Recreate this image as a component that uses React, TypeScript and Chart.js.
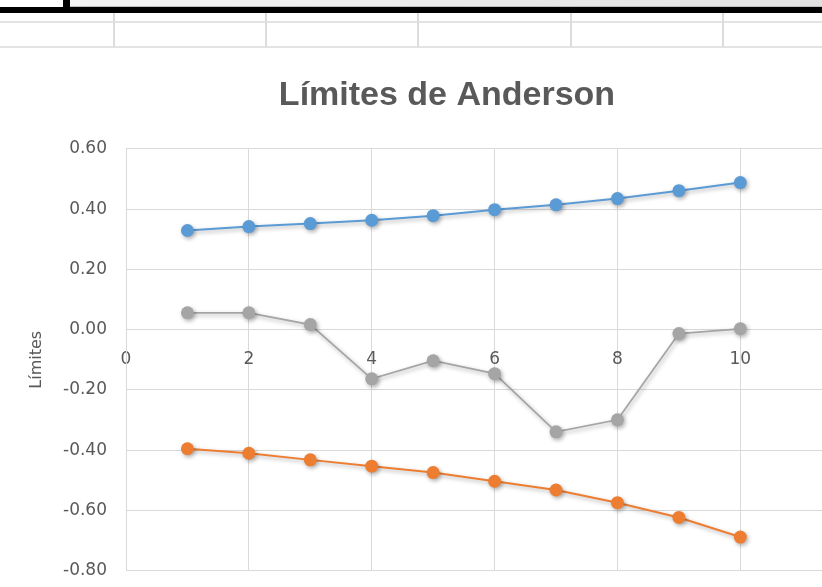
import React, { useEffect, useRef } from "react";
import { Chart, registerables } from "chart.js";

Chart.register(...registerables);

const chartTitle = "Límites de Anderson";
const yAxisTitle = "Límites";
const xValues = [1, 2, 3, 4, 5, 6, 7, 8, 9, 10];
const upperLimit = [0.329, 0.342, 0.352, 0.363, 0.378, 0.398, 0.414, 0.435, 0.461, 0.488];
const statistic = [0.056, 0.056, 0.017, -0.163, -0.103, -0.146, -0.339, -0.299, -0.013, 0.003];
const lowerLimit = [-0.395, -0.41, -0.432, -0.453, -0.474, -0.503, -0.532, -0.574, -0.623, -0.688];
const yMin = -0.8;
const yMax = 0.6;
const yStep = 0.2;
const xMin = 0;
const xMax = 12;
const xStep = 2;

const GRID = "#d9d9d9";
const TEXT = "#595959";

const shadowPlugin = {
  id: "markerShadow",
  beforeDatasetsDraw(chart: any) {
    const ctx = chart.ctx;
    ctx.save();
    ctx.shadowColor = "rgba(0,0,0,0.32)";
    ctx.shadowBlur = 4;
    ctx.shadowOffsetX = 1.5;
    ctx.shadowOffsetY = 2;
  },
  afterDatasetsDraw(chart: any) {
    chart.ctx.restore();
  },
};

function series(values: number[]) {
  return xValues.map((x, i) => ({ x, y: values[i] }));
}

export default function App() {
  const ref = useRef<HTMLCanvasElement | null>(null);

  useEffect(() => {
    if (!ref.current) return;
    const chart = new Chart(ref.current, {
      type: "line",
      data: {
        datasets: [
          {
            label: "Límite superior",
            data: series(upperLimit),
            borderColor: "#5B9BD5",
            backgroundColor: "#5B9BD5",
            borderWidth: 2,
            pointRadius: 6.5,
            pointBorderWidth: 0,
            tension: 0,
          },
          {
            label: "Límite inferior",
            data: series(lowerLimit),
            borderColor: "#ED7D31",
            backgroundColor: "#ED7D31",
            borderWidth: 2,
            pointRadius: 6.5,
            pointBorderWidth: 0,
            tension: 0,
          },
          {
            label: "Estadístico",
            data: series(statistic),
            borderColor: "#A5A5A5",
            backgroundColor: "#A5A5A5",
            borderWidth: 1.75,
            pointRadius: 6.5,
            pointBorderWidth: 0,
            tension: 0,
          },
        ],
      },
      options: {
        animation: false,
        responsive: false,
        layout: { padding: { left: 24, right: 24, top: 0, bottom: 4 } },
        plugins: {
          legend: { display: false },
          tooltip: { enabled: false },
          title: {
            display: true,
            text: chartTitle,
            color: TEXT,
            font: { family: "'Liberation Sans', Arial, sans-serif", size: 34, weight: "bold", lineHeight: 1.2 },
            padding: { top: 75, bottom: 33 },
          },
        },
        scales: {
          x: {
            type: "linear",
            position: { y: 0 } as any,
            min: xMin,
            max: xMax,
            grid: { color: GRID, lineWidth: 1, drawTicks: false },
            border: { color: GRID, width: 1 },
            ticks: {
              stepSize: xStep,
              color: TEXT,
              padding: 20,
              font: { family: "'DejaVu Sans', sans-serif", size: 17 },
              callback: (v: any) => String(v),
            },
          },
          y: {
            type: "linear",
            min: yMin,
            max: yMax,
            afterFit: (s: any) => {
              s.width = 102;
            },
            grid: { color: GRID, lineWidth: 1, drawTicks: false },
            border: { color: GRID, width: 1 },
            ticks: {
              stepSize: yStep,
              color: TEXT,
              padding: 19,
              font: { family: "'DejaVu Sans', sans-serif", size: 17 },
              callback: (v: any) => {
                const n = Math.abs(Number(v)) < 1e-9 ? 0 : Number(v);
                return n.toFixed(2);
              },
            },
            title: {
              display: true,
              text: yAxisTitle,
              color: TEXT,
              padding: { top: 3, bottom: 0 },
              font: { family: "'DejaVu Sans', sans-serif", size: 16 },
            },
          },
        },
      },
      plugins: [shadowPlugin],
    });
    return () => chart.destroy();
  }, []);

  const vLines = [114, 266, 418, 571, 723];

  return (
    <div
      style={{
        position: "fixed",
        left: 0,
        top: 0,
        width: 822,
        height: 587,
        overflow: "hidden",
        background: "#ffffff",
      }}
    >
      <canvas ref={ref} width={894} height={600} style={{ position: "absolute", left: 0, top: 0 }} />
      <div style={{ position: "absolute", left: 0, top: 0, width: 63, height: 7, background: "#ffffff" }} />
      <div style={{ position: "absolute", left: 63, top: 0, width: 7, height: 8, background: "#000000" }} />
      <div
        style={{
          position: "absolute",
          left: 70,
          top: 0,
          width: 752,
          height: 6,
          background: "linear-gradient(to right, #f4f4f4, #e1e1e1)",
          borderBottom: "1px solid #bdbdbd",
        }}
      />
      <div style={{ position: "absolute", left: 0, top: 7, width: 822, height: 6, background: "#000000" }} />
      <div style={{ position: "absolute", left: 0, top: 21, width: 822, height: 2, background: "#e3e3e3" }} />
      <div style={{ position: "absolute", left: 0, top: 46, width: 822, height: 2, background: "#e3e3e3" }} />
      {vLines.map((x) => (
        <div key={x} style={{ position: "absolute", left: x - 1, top: 13, width: 2, height: 34, background: "#dcdcdc" }} />
      ))}
    </div>
  );
}
